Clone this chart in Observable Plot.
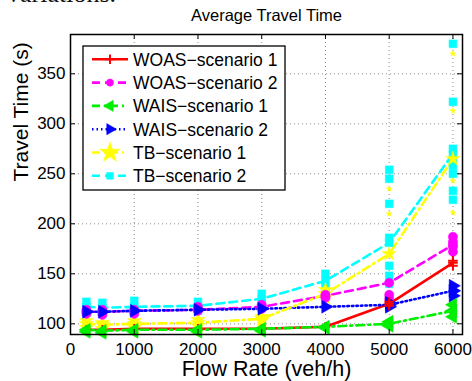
<!DOCTYPE html>
<html><head><meta charset="utf-8">
<script src="https://cdn.jsdelivr.net/npm/d3@7"></script>
<script src="https://cdn.jsdelivr.net/npm/@observablehq/plot@0.6"></script>
<style>
body{margin:0;background:#fff;}
#wrap{position:relative;width:472px;height:381px;overflow:hidden;font-family:"Liberation Sans",Arial,sans-serif;}
#lead{position:absolute;left:7px;top:-19px;font-family:"Liberation Serif","Times New Roman",serif;font-size:26px;line-height:26px;color:#111;white-space:nowrap;}
</style></head><body><div id="wrap"></div>
<script>
// ---- data ----
const chartTitle = "Average Travel Time";
const xLabel = "Flow Rate (veh/h)";
const yLabel = "Travel Time (s)";
const leadText = "variations.";
const seriesNames = ["WOAS\u2212scenario 1","WOAS\u2212scenario 2","WAIS\u2212scenario 1","WAIS\u2212scenario 2","TB\u2212scenario 1","TB\u2212scenario 2"];
const xTicks = [0,1000,2000,3000,4000,5000,6000];
const yTicks = [100,150,200,250,300,350];
const flows = [250,500,1000,2000,3000,4000,5000,6000];
const woas1 = [94,94,95,95,95,97,120,161];
const woas2 = [112,112,113,114,117,128,141,179];
const wais1 = [94,93,94,94,95,97,100,113];
const wais2 = [112,112,113,114,115,117,119,133];
const tb1 = [100,99,100,101,105,130,170,265];
const tb2 = [117,116,117,118,125,143,181,270];
// individual runs [flow, travel time]
const woas1Runs = [[5000,118],[5000,122],[6000,158],[6000,163]];
const woas2Runs = [[250,110],[250,114],[500,109],[500,114],[1000,110],[1000,114],[2000,113],[2000,117],[3000,115],[3000,119],[4000,126],[4000,129],[5000,125],[5000,129],[6000,172],[6000,177],[6000,182],[6000,187]];
const wais1Runs = [[250,92],[500,91],[1000,92],[2000,92],[3000,93],[4000,96],[5000,98],[5000,102],[6000,107],[6000,113],[6000,119]];
const wais2Runs = [[5000,117],[5000,121],[6000,128],[6000,133],[6000,138]];
const tb1Runs = [[250,96],[250,103],[500,95],[500,101],[1000,96],[1000,103],[2000,98],[2000,104],[3000,103],[3000,107],[4000,126],[4000,134],[5000,130],[5000,210],[5000,235],[6000,211],[6000,243],[6000,313],[6000,370]];
const tb2Runs = [[250,111],[250,122],[500,110],[500,121],[1000,111],[1000,123],[2000,113],[2000,122],[3000,121],[3000,130],[4000,137],[4000,150],[5000,140],[5000,148],[5000,158],[5000,186],[5000,220],[5000,245],[5000,254],[6000,224],[6000,233],[6000,250],[6000,258],[6000,264],[6000,275],[6000,322],[6000,380]];

// ---- styles ----
const series = [
  {name:seriesNames[0], values:woas1, runs:woas1Runs, color:"#ff0000", dash:null, symbol:"plus", r:3.2, rot:0, smallR:3.2},
  {name:seriesNames[1], values:woas2, runs:woas2Runs, color:"#ff00ff", dash:"8,5", symbol:"circle", r:4.6, rot:0, smallR:4.6},
  {name:seriesNames[2], values:wais1, runs:wais1Runs, color:"#00ee00", dash:"8,4,2,4", symbol:"triangle", r:4.8, rot:-90, smallR:4.8},
  {name:seriesNames[3], values:wais2, runs:wais2Runs, color:"#0000ff", dash:"1.5,3", symbol:"triangle", r:4.8, rot:90, smallR:4.8},
  {name:seriesNames[4], values:tb1, runs:tb1Runs, color:"#ffff00", dash:"8,4,2,4", symbol:"star", r:4.5, rot:0, smallR:1.8},
  {name:seriesNames[5], values:tb2, runs:tb2Runs, color:"#00ffff", dash:"8,5", symbol:"square", r:4.4, rot:0, smallR:4.4}
];
const markerOrder = [5,4,1,3,0,2];
const font = "'Liberation Sans', Arial, Helvetica, sans-serif";

const marks = [
  Plot.ruleX(xTicks, {x:d=>d, stroke:"#8a8a8a", strokeDasharray:"1,3", strokeWidth:1}),
  Plot.ruleY(yTicks, {y:d=>d, stroke:"#8a8a8a", strokeDasharray:"1,3", strokeWidth:1}),
];
series.forEach(s=>{
  marks.push(Plot.line(flows, {x:d=>d, y:(d,i)=>s.values[i], stroke:s.color, strokeWidth:2.6, strokeDasharray:s.dash}));
});
markerOrder.forEach(k=>{
  const s = series[k];
  const isPlus = s.symbol==="plus";
  const common = {symbol:s.symbol, fill:isPlus?"none":s.color, stroke:s.color, strokeWidth:isPlus?2:0.5, rotate:s.rot};
  marks.push(Plot.dot(s.runs.filter(d=>d[0]<5000), {x:d=>d[0], y:d=>d[1], r:s.r, ...common}));
  marks.push(Plot.dot(s.runs.filter(d=>d[0]>=5000), {x:d=>d[0], y:d=>d[1], r:s.smallR, ...common}));
  marks.push(Plot.dot(flows, {x:d=>d, y:(d,i)=>s.values[i], r:s.r, ...common}));
});
marks.push(
  Plot.tickX(xTicks, {x:d=>d, insetTop:295, stroke:"black", strokeWidth:1}),
  Plot.tickX(xTicks, {x:d=>d, insetBottom:295, stroke:"black", strokeWidth:1}),
  Plot.tickY(yTicks, {y:d=>d, insetRight:387, stroke:"black", strokeWidth:1}),
  Plot.tickY(yTicks, {y:d=>d, insetLeft:387, stroke:"black", strokeWidth:1}),
  Plot.axisX(xTicks, {tickSize:0, tickPadding:8, label:null, tickFormat:d=>String(d)}),
  Plot.axisY(yTicks, {tickSize:0, tickPadding:5, label:null, tickFormat:d=>String(d)}),
  Plot.frame({stroke:"black", strokeWidth:1.5}),
  Plot.text([chartTitle], {text:d=>d, frameAnchor:"top", dy:-13.3, lineAnchor:"bottom", fontSize:16.5}),
  Plot.text([xLabel], {text:d=>d, frameAnchor:"bottom", dy:41, lineAnchor:"bottom", fontSize:21.5}),
  Plot.text([yLabel], {text:d=>d, frameAnchor:"left", dx:-43, dy:-3, rotate:-90, lineAnchor:"bottom", fontSize:21})
);

const chart = Plot.plot({
  width:472, height:381, marginTop:34, marginBottom:47, marginLeft:70, marginRight:10,
  x:{domain:[0,6150]}, y:{domain:[89.3,389.3]},
  style:{fontFamily:font, fontSize:"17px", color:"black", background:"white", overflow:"visible"},
  marks
});

// legend
const symMap = {plus:d3.symbolPlus, circle:d3.symbolCircle, triangle:d3.symbolTriangle, star:d3.symbolStar, square:d3.symbolSquare};
const lg = d3.select(chart).append("g").attr("transform","translate(83,46)");
lg.append("rect").attr("width",202).attr("height",144).attr("fill","white").attr("stroke","black").attr("stroke-width",1.3);
const legR = [3.2,3.6,4.2,4.2,6.5,3.8];
series.forEach((s,i)=>{
  const cy = 13.3 + i*23.3;
  lg.append("line").attr("x1",9).attr("x2",45).attr("y1",cy).attr("y2",cy)
    .attr("stroke",s.color).attr("stroke-width",2.6).attr("stroke-dasharray",s.dash);
  const r = legR[i];
  lg.append("path").attr("d", d3.symbol(symMap[s.symbol], r*r*Math.PI)())
    .attr("transform",`translate(27,${cy}) rotate(${s.rot})`)
    .attr("fill", s.symbol==="plus"?"none":s.color).attr("stroke",s.color).attr("stroke-width", s.symbol==="plus"?2:0.5);
  lg.append("text").attr("x",50).attr("y",cy).attr("dy","0.36em").attr("text-anchor","start")
    .attr("font-size",17.5).attr("font-family",font).attr("fill","black").text(s.name);
});

const wrap = document.getElementById("wrap");
wrap.appendChild(chart);
const lead = document.createElement("div");
lead.id = "lead"; lead.textContent = leadText;
wrap.appendChild(lead);
</script></body></html>
